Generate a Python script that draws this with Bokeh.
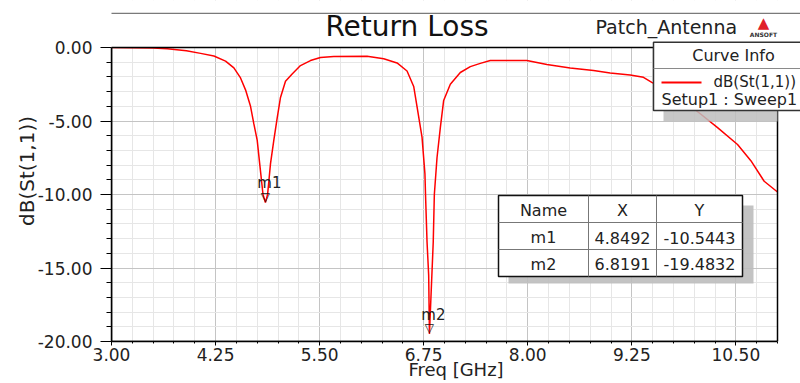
import numpy as np
from bokeh.plotting import figure
from bokeh.models import Range1d, FixedTicker, PrintfTickFormatter, Label, BoxAnnotation
from bokeh.core.properties import value
from bokeh.embed import file_html
from bokeh.resources import INLINE

# ---- data ----
freq = [3.00, 3.50, 3.67, 3.90, 4.07, 4.23, 4.37, 4.47, 4.55, 4.61, 4.67, 4.71, 4.75, 4.78,
        4.82, 4.849, 4.875, 4.91, 4.95, 4.99, 5.03, 5.09, 5.17, 5.27, 5.39, 5.51, 5.67, 6.07,
        6.27, 6.43, 6.55, 6.63, 6.67, 6.73, 6.765, 6.772, 6.79, 6.81, 6.819, 6.835, 6.865,
        6.878, 6.91, 6.95, 6.99, 7.07, 7.19, 7.31, 7.43, 7.55, 7.99, 8.23, 8.51, 8.79, 8.99,
        9.23, 9.39, 9.49, 9.70, 9.90, 10.08, 10.28, 10.52, 10.68, 10.84, 11.00]
db = [-0.00, -0.03, -0.08, -0.22, -0.40, -0.58, -0.93, -1.39, -2.07, -2.88, -4.00, -5.20, -6.30, -7.90,
      -10.00, -10.5443, -10.00, -7.90, -6.30, -4.80, -3.40, -2.30, -1.80, -1.23, -0.89, -0.68, -0.62, -0.60,
      -0.76, -1.05, -1.60, -2.65, -4.02, -6.10, -8.60, -10.00, -13.20, -15.50, -19.4832, -17.30, -13.20,
      -10.00, -7.50, -5.45, -3.60, -2.50, -1.70, -1.30, -1.08, -0.89, -0.89, -1.16, -1.39, -1.57, -1.73,
      -1.87, -2.03, -2.37, -3.00, -3.75, -4.54, -5.45, -6.60, -7.70, -9.10, -9.83]

marker_names = ["m1", "m2"]
marker_x = [4.8492, 6.8191]
marker_y = [-10.5443, -19.4832]
marker_x_text = ["4.8492", "6.8191"]
marker_y_text = ["-10.5443", "-19.4832"]

x_ticks = [3.00, 4.25, 5.50, 6.75, 8.00, 9.25, 10.50]
x_minor = [3.0 + 0.25 * i for i in range(33)]
y_ticks = [0, -5, -10, -15, -20]
y_minor = [-20.0 + i for i in range(21)]
x_lo, x_hi = 3.0, 11.0
y_lo, y_hi = -20.0, 0.0

title_text = "Return Loss"
project_text = "Patch_Antenna"
x_label = "Freq [GHz]"
y_label = "dB(St(1,1))"
legend_title = "Curve Info"
legend_curve = "dB(St(1,1))"
legend_setup = "Setup1 : Sweep1"
table_header = ["Name", "X", "Y"]

FONT = "DejaVu Sans"
TXT = "#222222"
BASE_SHIFT = 0.346  # label anchor correction (em) so that y is the text baseline

# ---- layout constants (pixels, page coordinates) ----
W, H = 800, 383
F_LEFT, F_RIGHT_DATA_PX, F_TOP_DATA_PX, F_BOTTOM = 111, 777, 47, 341
px_per_x = (F_RIGHT_DATA_PX - F_LEFT) / (x_hi - x_lo)
px_per_y = (F_BOTTOM - F_TOP_DATA_PX) / (y_hi - y_lo)
x_end = x_hi + (W - F_RIGHT_DATA_PX) / px_per_x
y_top = y_hi + F_TOP_DATA_PX / px_per_y

p = figure(width=W, height=H, x_range=Range1d(x_lo, x_end), y_range=Range1d(y_lo, y_top),
           output_backend="svg", toolbar_location=None,
           min_border_left=F_LEFT, min_border_right=0, min_border_top=0,
           min_border_bottom=H - F_BOTTOM)
p.title = None
p.background_fill_color = "white"
p.border_fill_color = "white"
p.outline_line_color = None


def add_box(l, r, t, b, fill="white", line=None, lw=1.0, alpha=1.0,
            lu="canvas", ru="canvas", tu="canvas", bu="canvas"):
    kw = dict(left=l, right=r, top=t, bottom=b,
              left_units=lu, right_units=ru, top_units=tu, bottom_units=bu,
              fill_color=fill, fill_alpha=alpha)
    if line is None:
        kw.update(line_alpha=0)
    else:
        kw.update(line_color=line, line_width=lw, line_alpha=1)
    bx = BoxAnnotation(**kw)
    p.add_layout(bx)
    return bx


def add_label(x, y, text, size, align="left", color=TXT, style="normal"):
    lb = Label(x=x, y=y - BASE_SHIFT * size, x_units="canvas", y_units="canvas", text=text,
               text_font=FONT, text_font_size=f"{size}px", text_align=align,
               text_baseline="alphabetic", text_color=color, text_font_style=style)
    p.add_layout(lb)
    return lb


xt = FixedTicker(ticks=x_ticks, minor_ticks=x_minor)
yt = FixedTicker(ticks=y_ticks, minor_ticks=y_minor)
p.xaxis.ticker = xt
p.yaxis.ticker = yt
p.xgrid.ticker = xt
p.ygrid.ticker = yt
p.xaxis.bounds = (x_lo, x_hi)
p.yaxis.bounds = (y_lo, y_hi)
for ax in (p.xaxis[0], p.yaxis[0]):
    ax.formatter = PrintfTickFormatter(format="%.2f")
    ax.axis_line_color = "black"
    ax.axis_line_width = 1.5
    ax.major_tick_line_color = "black"
    ax.minor_tick_line_color = "black"
    ax.major_tick_in = 0
    ax.minor_tick_in = 0
    ax.major_label_text_font = FONT
    ax.major_label_text_font_size = "17px"
    ax.major_label_text_color = TXT
    ax.axis_label_text_font = FONT
    ax.axis_label_text_font_style = "normal"
    ax.axis_label_text_color = TXT
p.yaxis.major_tick_out = 11
p.yaxis.minor_tick_out = 5
p.yaxis.major_label_standoff = 8
p.yaxis.axis_label = y_label
p.yaxis.axis_label_text_font_size = "20px"
p.yaxis.axis_label_standoff = -4
p.xaxis.major_tick_out = 4
p.xaxis.minor_tick_out = 2
p.xaxis.major_label_standoff = 2
p.xaxis.axis_label = x_label
p.xaxis.axis_label_text_font_size = "18px"
p.xaxis.axis_label_standoff = -5

for g in (p.xgrid[0], p.ygrid[0]):
    g.grid_line_color = "#c4c4c4"
    g.grid_line_width = 1
    g.minor_grid_line_color = "#e6e6e6"
    g.minor_grid_line_width = 1

p.line(freq, db, line_color="#ff0000", line_width=1.5)

# markers
p.text(x=marker_x, y=marker_y, text=["\u25bd"] * len(marker_x), text_font=value(FONT),
       text_font_size="12px", text_align="center", text_baseline="middle",
       text_color="#111111", y_offset=-6)
p.text(x=marker_x, y=marker_y, text=marker_names, text_font=value(FONT),
       text_font_size="15px", text_align="center", text_baseline="alphabetic",
       text_color=TXT, x_offset=4, y_offset=-14 - BASE_SHIFT * 15)

# white covers outside the data box, then the black plot frame
add_box(None, None, None, y_hi, bu="data")
add_box(x_hi, None, None, None, lu="data")
add_box(x_lo, x_hi, y_hi, y_lo, fill="white", alpha=0, line="black", lw=1.5,
        lu="data", ru="data", tu="data", bu="data")

# header: rule, title, project name, logo
add_box(10, 800, 12.3, 13.5, fill="#7a7a7a")
add_label(406.5, 36, title_text, 28, align="center", color="#111111")
add_label(595, 33, project_text, 19)
add_label(763, 28, "\u25b2", 15, align="center", color="#e0202a")
add_label(763, 36, "ANSOFT", 6, align="center", color="#333333", style="bold")

# curve info legend
add_box(663, x_hi, 51, 121, fill="#bdbdbd", alpha=0.85, ru="data")
add_box(653, 801, 41.75, 110, fill="white", line="#333333", lw=1.5)
add_box(653, 801, 67.5, 68.5, fill="#8a8a8a")
add_label(733, 60.7, legend_title, 16, align="center")
add_box(661, 701, 81, 83, fill="#ff0000")
add_label(713, 86.7, legend_curve, 15)
add_label(661, 105, legend_setup, 16)

# marker table
add_box(508, 753, 205, 283, fill="#bdbdbd", alpha=0.9)
add_box(498, 742, 195, 276, fill="white", line="#111111", lw=1.5)
add_box(587.5, 588.5, 195, 276, fill="#777777")
add_box(655.5, 656.5, 195, 276, fill="#777777")
add_box(498, 742, 221.5, 222.5, fill="#777777")
add_box(498, 742, 248.5, 249.5, fill="#777777")
col_x = [543, 622, 699]
for cx, h in zip(col_x, table_header):
    add_label(cx, 216, h, 16, align="center")
for i, (nm, xs, ys) in enumerate(zip(marker_names, marker_x_text, marker_y_text)):
    by = 243 + 26.5 * i
    add_label(col_x[0], by, nm, 16, align="center")
    add_label(col_x[1], by, xs, 16, align="center")
    add_label(col_x[2], by, ys, 16, align="center")

open("out.html", "w").write(file_html(p, INLINE))
